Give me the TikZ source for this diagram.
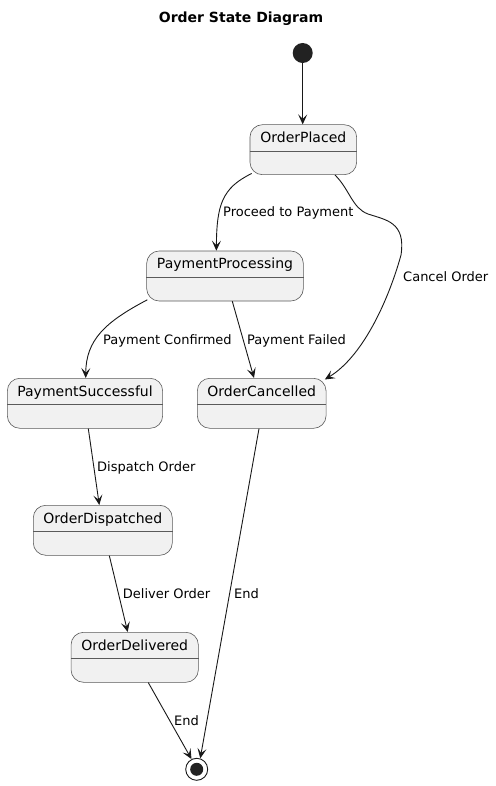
\documentclass[tikz,border=0pt]{standalone}
\usepackage{fontspec}
\setmainfont{DejaVu Sans}
\usetikzlibrary{arrows.meta,calc}
\definecolor{linec}{HTML}{181818}
\definecolor{boxc}{HTML}{5A5A5A}
\definecolor{statefill}{HTML}{F1F1F1}
\definecolor{startc}{HTML}{222222}
\tikzset{
  stbox/.style={draw=boxc, fill=statefill, rounded corners=12.5pt, line width=0.6pt, minimum height=50pt, inner sep=0pt},
  divline/.style={draw=boxc, line width=0.6pt},
  sname/.style={anchor=base, inner sep=0pt, font=\fontsize{14}{16}\selectfont},
  elabel/.style={anchor=base west, inner sep=0pt, font=\fontsize{13}{15}\selectfont},
  conn/.style={draw=linec, line width=0.9pt, -{Stealth[length=10pt,width=9pt,inset=4.5pt]}},
}
\newcommand{\mkstate}[5]{% name, cx, top, width, text
  \node[stbox, minimum width=#4pt] (#1) at (#2,-#3-25) {};
  \draw[divline] ($(#1.north west)+(0,-26.7)$) -- ($(#1.north east)+(0,-26.7)$);
  \node[sname] (#1-n) at ($(#1.north)+(0,-18)$) {#5};
}
\begin{document}
\begin{tikzpicture}[x=1pt,y=1pt]
\useasboundingbox (0,0) rectangle (495,-786);
\node[font=\bfseries\fontsize{14}{16}\selectfont, anchor=base] (title) at (241,-23) {Order State Diagram};

\node[circle, fill=startc, minimum size=20pt, inner sep=0pt] (start) at (302.7,-53) {};
\node[circle, draw=linec, line width=0.9pt, fill=white, minimum size=22pt, inner sep=0pt] (end) at (196.7,-769.3) {};
\node[circle, fill=startc, minimum size=13pt, inner sep=0pt] (endin) at (end) {};

\mkstate{op}{303.3}{124.7}{106.7}{OrderPlaced}
\mkstate{pp}{225}{251}{156.7}{PaymentProcessing}
\mkstate{ps}{85}{378.3}{155.3}{PaymentSuccessful}
\mkstate{oc}{261.7}{378.3}{128.7}{OrderCancelled}
\mkstate{od}{102.8}{505.3}{139}{OrderDispatched}
\mkstate{odl}{134.7}{632.3}{127.3}{OrderDelivered}

% start -> OrderPlaced
\draw[conn] (start.south) -- (start.south |- op.north);
% OrderPlaced -> PaymentProcessing
\draw[conn] ($(op.south west)+(2,1.5)$) .. controls (222,-188) and (216.7,-205) .. ($(pp.north west)+(70,0)$);
\node[elabel] (l1) at (223,-217) {Proceed to Payment};
% OrderPlaced -> OrderCancelled
\draw[conn] ($(op.south)+(31.7,0)$) .. controls (350,-190) and (352,-208) .. (368,-214)
  .. controls (386,-220) and (406,-222) .. (401,-255)
  .. controls (390,-295) and (365,-355) .. ($(oc.north east)+(-1.5,-1.5)$);
\node[elabel] (l2) at (403,-281) {Cancel Order};
% PaymentProcessing -> PaymentSuccessful
\draw[conn] ($(pp.south west)+(1,1.5)$) .. controls (105,-322) and (86,-340) .. ($(ps.north)+(0.7,0)$);
\node[elabel] (l3) at (103,-344) {Payment Confirmed};
% PaymentProcessing -> OrderCancelled
\draw[conn] ($(pp.south)+(7.3,0)$) -- ($(oc.north)+(-7.7,0)$);
\node[elabel] (l4) at (247,-344) {Payment Failed};
% PaymentSuccessful -> OrderDispatched
\draw[conn] ($(ps.south)+(3.3,0)$) -- ($(od.north)+(-3.5,0)$);
\node[elabel] (l5) at (97,-471) {Dispatch Order};
% OrderDispatched -> OrderDelivered
\draw[conn] ($(od.south)+(6.5,0)$) -- ($(odl.north)+(-7,0)$);
\node[elabel] (l6) at (122.7,-598) {Deliver Order};
% OrderDelivered -> end
\draw[conn] ($(odl.south)+(13.6,0)$) -- (end.117);
\node[elabel] (l7) at (174,-725.5) {End};
% OrderCancelled -> end
\draw[conn] ($(oc.south)+(-2.7,0)$) -- (end.72);
\node[elabel] (l8) at (234,-598) {End};
\end{tikzpicture}
\end{document}
